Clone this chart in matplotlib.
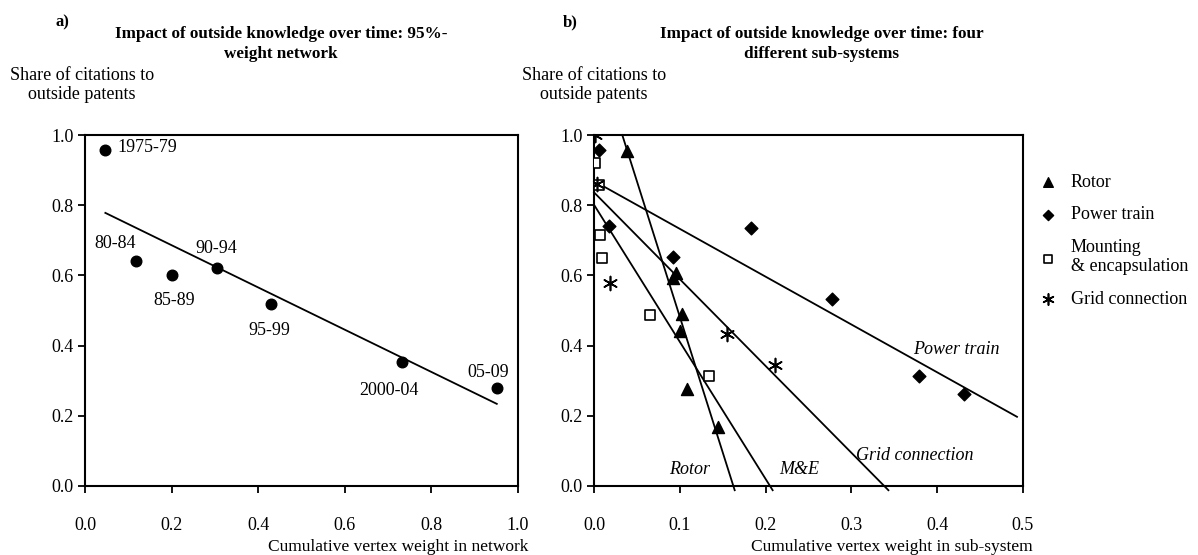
import numpy as np
import matplotlib
matplotlib.use("Agg")
import matplotlib.pyplot as plt

plt.rcParams["font.family"] = "Liberation Serif"

# panel a: 95%-weight network, one point per period
periods = ["1975-79", "80-84", "85-89", "90-94", "95-99", "2000-04", "05-09"]
net_weight = [0.047, 0.118, 0.202, 0.305, 0.430, 0.733, 0.951]
net_share = [0.957, 0.640, 0.601, 0.621, 0.518, 0.352, 0.279]

# panel b: four sub-systems
rotor_x = [0.038, 0.0915, 0.095, 0.102, 0.100, 0.108, 0.145]
rotor_y = [0.955, 0.594, 0.607, 0.491, 0.442, 0.276, 0.169]
power_x = [0.0062, 0.018, 0.0915, 0.1826, 0.2775, 0.379, 0.431]
power_y = [0.956, 0.741, 0.653, 0.736, 0.532, 0.313, 0.263]
mount_x = [0.0012, 0.0058, 0.007, 0.0089, 0.065, 0.134]
mount_y = [0.919, 0.857, 0.715, 0.650, 0.486, 0.314]
grid_x = [0.0012, 0.004, 0.0186, 0.155, 0.211]
grid_y = [1.000, 0.860, 0.579, 0.434, 0.346]

# label offsets (pixels) for panel a
offsets = {"1975-79": (12, 3, "left"), "80-84": (-21, 18, "center"),
           "85-89": (2, -25, "center"), "90-94": (-1, 20, "center"),
           "95-99": (-2, -26, "center"), "2000-04": (-13, -28, "center"),
           "05-09": (-9, 16, "center")}

W, H = 1198, 555
fig = plt.figure(figsize=(W / 100, H / 100), dpi=100)
ax1 = fig.add_axes([85 / W, 1 - 486 / H, (518 - 85) / W, (486 - 135) / H])
ax2 = fig.add_axes([594 / W, 1 - 486 / H, (1023 - 594) / W, (486 - 135) / H])


def style(ax):
    for s in ax.spines.values():
        s.set_linewidth(1.5)
    ax.tick_params(direction="out", length=5, width=1.3, labelsize=13,
                   top=False, right=False)
    ax.tick_params(axis="x", pad=17)
    ax.tick_params(axis="y", pad=3)
    ax.set_ylim(0, 1)
    ax.set_yticks(np.arange(0, 1.01, 0.2))
    ax.set_yticklabels([f"{v:.1f}" for v in np.arange(0, 1.01, 0.2)])


# --- panel a
style(ax1)
ax1.set_xlim(0, 1)
ax1.set_xticks(np.arange(0, 1.01, 0.2))
ax1.set_xticklabels([f"{v:.1f}" for v in np.arange(0, 1.01, 0.2)])
ax1.scatter(net_weight, net_share, s=58, color="black", zorder=3)
k, b = np.polyfit(net_weight, net_share, 1)
xs = np.array([min(net_weight), max(net_weight)])
ax1.plot(xs, k * xs + b, color="black", lw=1.3)
for p, x, y in zip(periods, net_weight, net_share):
    dx, dy, ha = offsets[p]
    ax1.annotate(p, (x, y), xytext=(dx, dy), textcoords="offset pixels",
                 ha=ha, va="center", fontsize=13)
ax1.annotate("Cumulative vertex weight in network", (1, 0), xycoords="axes fraction",
             xytext=(10, -61), textcoords="offset pixels", ha="right", va="center",
             fontsize=12.5)

# --- panel b
style(ax2)
ax2.set_xlim(0, 0.5)
ax2.set_xticks(np.arange(0, 0.51, 0.1))
ax2.set_xticklabels([f"{v:.1f}" for v in np.arange(0, 0.51, 0.1)])

series = [
    ("Rotor", rotor_x, rotor_y, dict(marker="^", s=75, color="black")),
    ("Power train", power_x, power_y, dict(marker="D", s=42, color="black")),
    ("Mounting\n& encapsulation", mount_x, mount_y,
     dict(marker="s", s=60, facecolor="white", edgecolor="black", linewidths=1.2)),
    ("Grid connection", grid_x, grid_y,
     dict(marker=(6, 2, 0), s=100, color="black", linewidths=1.2)),
]
handles = []
for name, x, y, kw in series:
    h = ax2.scatter(x, y, zorder=3, **kw)
    handles.append(h)
    k, b = np.polyfit(x, y, 1)
    x0 = max(0.0, (1 - b) / k) if b > 1 else 0.0
    x1 = min(0.493, (-0.012 - b) / k)
    xs = np.array([x0, x1])
    ax2.plot(xs, k * xs + b, color="black", lw=1.3, clip_on=False)

line_labels = [("Power train", 0.4225, 0.39), ("Grid connection", 0.374, 0.087),
               ("M&E", 0.2395, 0.047), ("Rotor", 0.111, 0.047)]
for t, x, y in line_labels:
    ax2.text(x, y, t, style="italic", ha="center", va="center", fontsize=13)

ax2.annotate("Cumulative vertex weight in sub-system", (1, 0), xycoords="axes fraction",
             xytext=(10, -61), textcoords="offset pixels", ha="right", va="center",
             fontsize=12.5)

ax2.legend(handles, [s[0] for s in series], loc="upper left",
           bbox_to_anchor=(1039 / W, 1 - 174 / H), bbox_transform=fig.transFigure,
           frameon=False, fontsize=13, handlelength=1, handletextpad=0.75,
           labelspacing=0.85, borderpad=0, borderaxespad=0, markerscale=0.8)

# titles and y labels
fig.text(62 / W, 1 - 22 / H, "a)", fontsize=12, fontweight="bold", ha="center", va="center")
fig.text(570 / W, 1 - 22 / H, "b)", fontsize=12, fontweight="bold", ha="center", va="center")
fig.text(281 / W, 1 - 44 / H, "Impact of outside knowledge over time: 95%-\nweight network",
         fontsize=12.3, fontweight="bold", ha="center", va="center", linespacing=1.25)
fig.text(822 / W, 1 - 44 / H, "Impact of outside knowledge over time: four\ndifferent sub-systems",
         fontsize=12.3, fontweight="bold", ha="center", va="center", linespacing=1.25)
for cx in (82, 594):
    fig.text(cx / W, 1 - 85 / H, "Share of citations to\noutside patents",
             fontsize=13, ha="center", va="center", linespacing=1.2)

fig.savefig("out.png", dpi=100)
